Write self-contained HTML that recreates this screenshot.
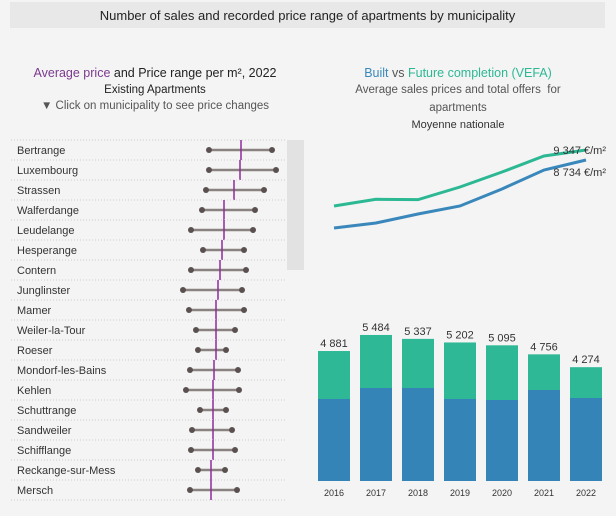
<!DOCTYPE html>
<html><head><meta charset="utf-8"><style>
body{margin:0;width:616px;height:516px;background:#f4f4f4;font-family:"Liberation Sans",sans-serif;overflow:hidden;position:relative}
.t{position:absolute;white-space:nowrap}
</style></head><body>
<div style="position:absolute;left:10px;top:2px;width:595px;height:26px;background:#e8e8e8"></div>
<div class="t" style="left:10px;width:595px;top:8px;text-align:center;font-size:13px;color:#222">Number of sales and recorded price range of apartments by municipality</div>
<div class="t" style="left:0;width:310px;top:66px;text-align:center;font-size:12.5px;color:#222"><span style="color:#7b3a8e">Average price</span> and Price range per m², 2022</div>
<div class="t" style="left:0;width:310px;top:84px;text-align:center;font-size:11.5px;color:#222">Existing Apartments</div>
<div class="t" style="left:0;width:310px;top:100px;text-align:center;font-size:11.5px;color:#555">▼ Click on municipality to see price changes</div>
<div class="t" style="left:300px;width:316px;top:66px;text-align:center;font-size:12.5px;color:#555"><span style="color:#3a88bb">Built</span> vs <span style="color:#2db894">Future completion (VEFA)</span></div>
<div class="t" style="left:300px;width:316px;top:84px;text-align:center;font-size:11.5px;color:#555">Average sales prices and total offers&nbsp; for</div>
<div class="t" style="left:300px;width:316px;top:102px;text-align:center;font-size:11.5px;color:#555">apartments</div>
<div class="t" style="left:300px;width:316px;top:119px;text-align:center;font-size:11px;color:#333">Moyenne nationale</div>
<svg id="c" width="616" height="516" style="position:absolute;left:0;top:0" font-family="Liberation Sans, sans-serif"></svg>
<script>
const municipalities=["Bertrange","Luxembourg","Strassen","Walferdange","Leudelange","Hesperange","Contern","Junglinster","Mamer","Weiler-la-Tour","Roeser","Mondorf-les-Bains","Kehlen","Schuttrange","Sandweiler","Schifflange","Reckange-sur-Mess","Mersch"];
const minPrice=[10900,10900,10600,10200,9100,10300,9100,8300,8900,9600,9800,9000,8600,10000,9200,9100,9800,9000];
const maxPrice=[17200,17600,16400,15500,15300,14400,14600,14200,14400,13500,12600,13800,13900,12600,13200,13500,12500,13700];
const avgPrice=[14100,14000,13400,12400,12400,12200,12000,11800,11600,11600,11600,11400,11300,11300,11300,11300,11100,11100];
const years=["2016","2017","2018","2019","2020","2021","2022"];
const totalOffers=[4881,5484,5337,5202,5095,4756,4274];
const builtOffers=[3079,3492,3492,3079,3042,3417,3117];
const vefaPrice=[5912,6322,6300,7077,7997,8979,9347];
const builtPrice=[4562,4869,5421,5912,6955,8120,8734];
const S=document.getElementById('c'),NS="http://www.w3.org/2000/svg";
function mk(t,a,p){const e=document.createElementNS(NS,t);for(const k in a)e.setAttribute(k,a[k]);(p||S).appendChild(e);return e;}
const px=p=>100+p/100, rowY=i=>150+20*i;
const sb=mk('rect',{x:287,y:140,width:17,height:130,fill:'#e2e2e2'});


municipalities.forEach((m,i)=>{
 const g=mk('g',{});
 
 
 const y=rowY(i);
 mk('line',{x1:11,x2:286,y1:y-10,y2:y-10,stroke:'#ccc','stroke-dasharray':'1,2'},g);
 if(i==municipalities.length-1)mk('line',{x1:11,x2:286,y1:y+10,y2:y+10,stroke:'#ccc','stroke-dasharray':'1,2'},g);
 const tx=mk('text',{x:17,y:y+4,'font-size':11,fill:'#333'},g);tx.textContent=m;
 mk('line',{x1:px(minPrice[i]),x2:px(maxPrice[i]),y1:y,y2:y,stroke:'#8a8280','stroke-width':2.5},g);
 mk('circle',{cx:px(minPrice[i]),cy:y,r:3,fill:'#5a5050'},g);
 mk('circle',{cx:px(maxPrice[i]),cy:y,r:3,fill:'#5a5050'},g);
 mk('line',{x1:px(avgPrice[i]),x2:px(avgPrice[i]),y1:y-10,y2:y+10,stroke:'#8e2a9e','stroke-width':1.5},g);
});
const bx=i=>334+42*i;
function ly(v){return 150+(9347-v)*0.0163;}
[[vefaPrice,'#2db894','vefa-price-line'],[builtPrice,'#3a88bb','built-price-line']].forEach(([d,c,n])=>{
 const p=mk('polyline',{points:d.map((v,i)=>bx(i)+','+ly(v)).join(' '),fill:'none',stroke:c,'stroke-width':3});
 
 
});
const fmt=v=>String(v).replace(/(\d)(\d{3})$/,'$1 $2');
const l1=mk('text',{x:606,y:154,'text-anchor':'end','font-size':11,fill:'#333'});l1.textContent=fmt(vefaPrice[6])+' €/m²';


const l2=mk('text',{x:606,y:176,'text-anchor':'end','font-size':11,fill:'#333'});l2.textContent=fmt(builtPrice[6])+' €/m²';


const by=v=>481-v*0.02663;
years.forEach((yr,i)=>{
 const g=mk('g',{});
 
 
 mk('rect',{x:bx(i)-16,y:by(totalOffers[i]),width:32,height:481-by(totalOffers[i]),fill:'#2eb896'},g);
 mk('rect',{x:bx(i)-16,y:by(builtOffers[i]),width:32,height:481-by(builtOffers[i]),fill:'#3484b8'},g);
 const t=mk('text',{x:bx(i),y:by(totalOffers[i])-4,'text-anchor':'middle','font-size':11,fill:'#333'},g);t.textContent=fmt(totalOffers[i]);
 const yl=mk('text',{x:bx(i),y:496,'text-anchor':'middle','font-size':9,fill:'#333'},g);yl.textContent=yr;
});
</script>
</body></html>
